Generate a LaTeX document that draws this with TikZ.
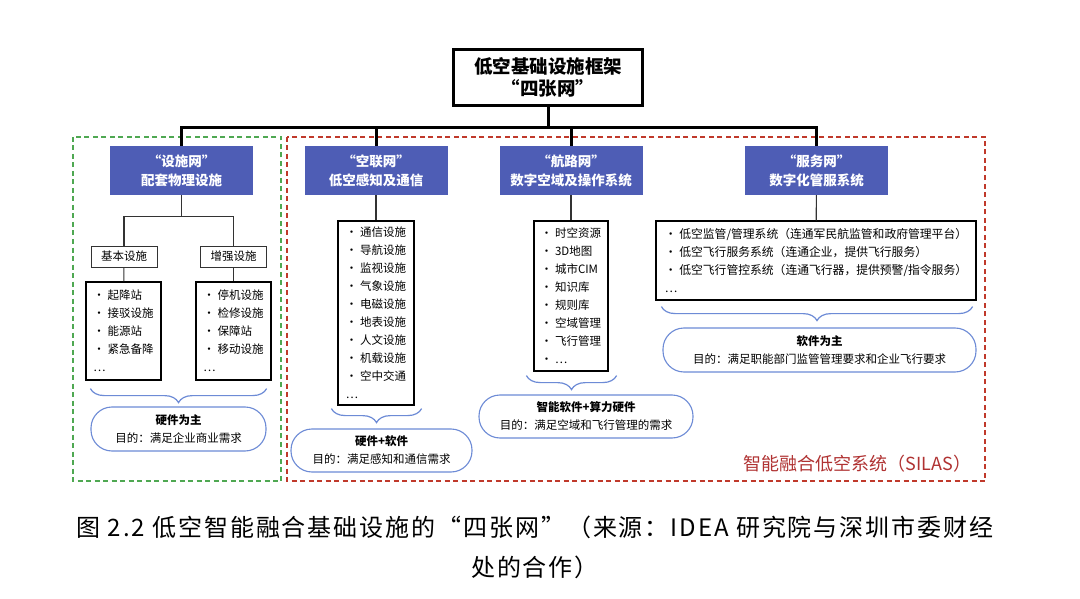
\documentclass[tikz,border=0pt]{standalone}
\usepackage{fontspec}
\setmainfont{Noto Sans CJK SC}
\newfontfamily\capfont{Noto Sans CJK SC}[LetterSpace=8]
\usetikzlibrary{positioning, calc, decorations.pathreplacing}
\definecolor{netBlue}{HTML}{4E5DB5}
\definecolor{braceBlue}{HTML}{6D8BD6}
\definecolor{zoneGreen}{HTML}{4FA852}
\definecolor{zoneRed}{HTML}{C0392B}
\definecolor{silasRed}{HTML}{B03232}
\definecolor{inkGray}{HTML}{333333}

\begin{document}
\begin{tikzpicture}[
        x=1pt,
        y=-1pt,
        font=\fontsize{11.5}{18}\selectfont,
        topbox/.style={rectangle, draw=black, line width=3pt, fill=white,
                       align=center, inner sep=0pt, minimum width=189pt,
                       minimum height=56pt, font=\fontsize{18.5}{22}\selectfont\bfseries},
        netbox/.style={rectangle, fill=netBlue, text=white, align=center,
                       inner sep=0pt, minimum width=143pt, minimum height=49pt,
                       font=\fontsize{13.5}{19}\selectfont\bfseries},
        subbox/.style={rectangle, draw=inkGray, line width=1pt, fill=white,
                       inner sep=0pt, minimum width=66pt, minimum height=21pt},
        listbox/.style={rectangle, draw=black, line width=1.2pt, fill=white,
                        align=left, inner sep=0pt},
        goalbox/.style={rectangle, draw=braceBlue, line width=1.1pt, fill=white,
                         rounded corners=21pt, align=center, inner sep=0pt},
        brace/.style={decorate, draw=braceBlue, line width=1.2pt,
                      decoration={brace, mirror, amplitude=14pt}},
        trunk/.style={draw=black, line width=3pt},
        branch/.style={draw=inkGray, line width=1.1pt},
        zone/.style={dashed, line width=1.4pt, dash pattern=on 5pt off 3.5pt},
        caption/.style={align=center, font=\capfont\fontsize{24}{40}\selectfont}
    ]
    \useasboundingbox (0,0) rectangle (1080,599);
    \fill[white] (0,0) rectangle (1080,599);

    % Frames
    \draw[zone, draw=zoneGreen] (73,137) rectangle (281,481);
    \draw[zone, draw=zoneRed] (287,137) rectangle (985,481);
    \node[anchor=east, text=silasRed, font=\fontsize{18}{20}\selectfont] (silas) at (975,464) {智能融合低空系统（SILAS）};

    % Top and the four nets
    \node[topbox] (frame) at (548,77.5) {低空基础设施框架\\“四张网”};
    \node[netbox] (facility) at (181.5,170.5) {“设施网”\\配套物理设施};
    \node[netbox] (airlink)  at (376,170.5)   {“空联网”\\低空感知及通信};
    \node[netbox] (route)    at (571,170.5)   {“航路网”\\数字空域及操作系统};
    \node[netbox] (service)  at (816.5,170.5) {“服务网”\\数字化管服系统};

    \foreach \n in {facility, airlink, route, service}
        \draw[trunk] (frame.south) -- ++(0,21) -| (\n.north);

    % Facility net
    \node[subbox] (basic) at (124,256.5) {基本设施};
    \node[subbox] (extra) at (233.5,256.5) {增强设施};
    \node[listbox, minimum width=75pt, minimum height=98pt] (basiclist) at (123.5,331)
        {• 起降站\\• 接驳设施\\• 能源站\\• 紧急备降\\…};
    \node[listbox, minimum width=75pt, minimum height=98pt] (extralist) at (233.5,331)
        {• 停机设施\\• 检修设施\\• 保障站\\• 移动设施\\…};
    \draw[branch] (facility.south) -- ++(0,21) -| (basic.north);
    \draw[branch] (facility.south) -- ++(0,21) -| (extra.north);
    \draw[branch] (basic) -- (basiclist);
    \draw[branch] (extra) -- (extralist);

    % Airlink net
    \node[listbox, minimum width=76pt, minimum height=184pt] (airlist) at (376,313)
        {• 通信设施\\• 导航设施\\• 监视设施\\• 气象设施\\• 电磁设施\\• 地表设施\\• 人文设施\\• 机载设施\\• 空中交通\\…};
    \draw[branch] (airlink) -- (airlist);

    % Route net
    \node[listbox, minimum width=74pt, minimum height=150pt] (routelist) at (571,296)
        {• 时空资源\\• 3D地图\\• 城市CIM\\• 知识库\\• 规则库\\• 空域管理\\• 飞行管理\\• …};
    \draw[branch] (route) -- (routelist);

    % Service net
    \node[listbox, minimum width=320pt, minimum height=79pt,
          font=\fontsize{11.8}{18}\selectfont] (servlist) at (816,260.5)
        {• 低空监管/管理系统（连通军民航监管和政府管理平台）\\• 低空飞行服务系统（连通企业，提供飞行服务）\\• 低空飞行管控系统（连通飞行器，提供预警/指令服务）\\…};
    \draw[branch] (service) -- (servlist);

    % Braces and goals
    \draw[brace] ($(basiclist.south west)+(5,8)$) -- ($(extralist.south east)+(-5,8)$);
    \draw[brace] ($(airlist.south west)+(-6,3)$) -- ($(airlist.south east)+(7,3)$);
    \draw[brace] ($(routelist.south west)+(-7,4)$) -- ($(routelist.south east)+(8,4)$);
    \draw[brace] ($(servlist.south west)+(6,6)$) -- ($(servlist.south east)+(-4,6)$);

    \node[goalbox, minimum width=175pt, minimum height=44pt] (goalfac) at (178.5,429)
        {\textbf{硬件为主}\\目的：满足企业商业需求};
    \node[goalbox, minimum width=181pt, minimum height=43pt] (goalair) at (381.5,450.5)
        {\textbf{硬件+软件}\\目的：满足感知和通信需求};
    \node[goalbox, minimum width=214pt, minimum height=43pt] (goalroute) at (586,416.5)
        {\textbf{智能软件+算力硬件}\\目的：满足空域和飞行管理的需求};
    \node[goalbox, minimum width=313pt, minimum height=44pt] (goalserv) at (819.5,350)
        {\textbf{软件为主}\\目的：满足职能部门监管管理要求和企业飞行要求};

    % Caption
    \node[caption] (cap) at (535,547)
        {图 2.2 低空智能融合基础设施的“四张网”（来源：IDEA 研究院与深圳市委财经\\处的合作）};
\end{tikzpicture}
\end{document}
